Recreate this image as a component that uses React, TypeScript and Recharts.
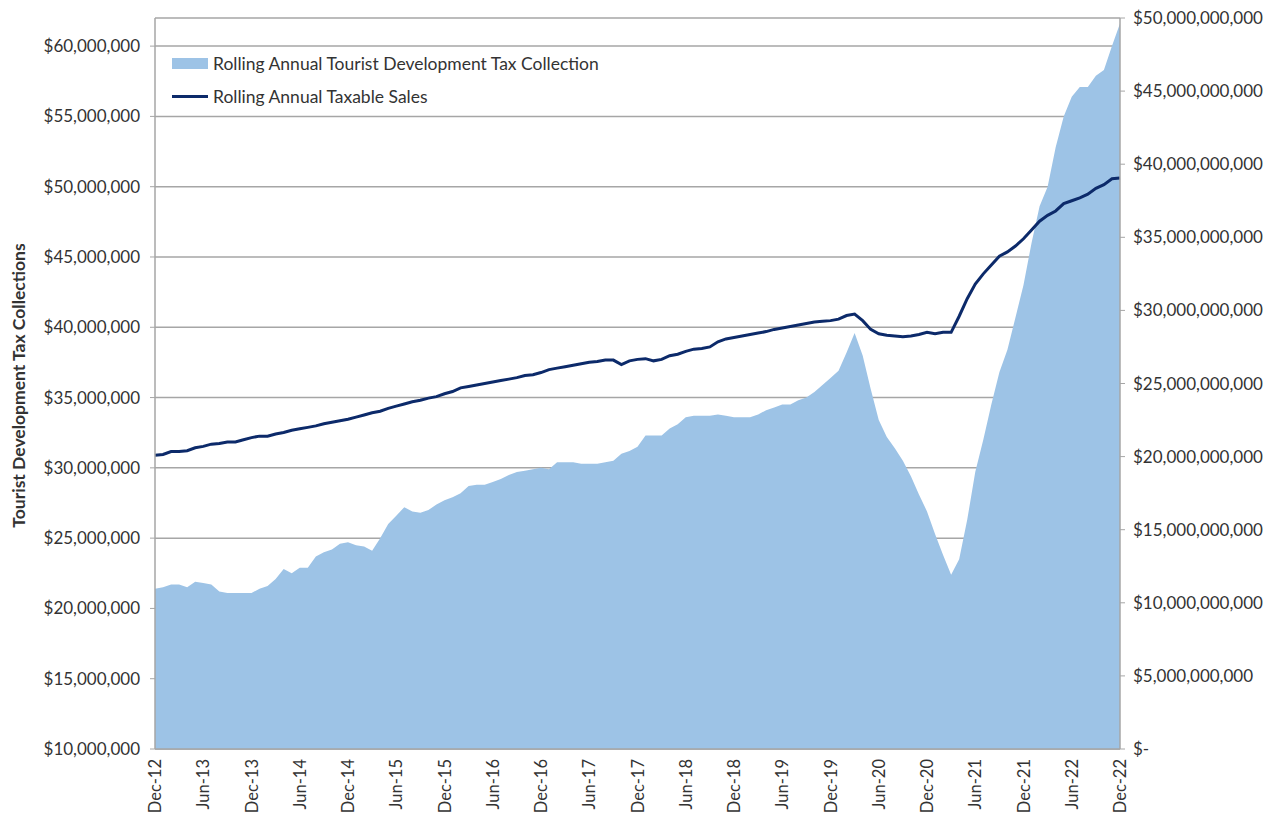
import React from 'react';
import { ComposedChart, CartesianGrid, XAxis, YAxis, Area, Line } from 'recharts';

// rolling annual tourist development tax collections, $ millions, Dec-12 .. Dec-22
const tdtMillions = [
  21.4, 21.5, 21.7, 21.7, 21.5, 21.9, 21.8, 21.7, 21.2, 21.1, 21.1, 21.1,
  21.1, 21.4, 21.6, 22.1, 22.8, 22.5, 22.9, 22.9, 23.7, 24.0, 24.2, 24.6,
  24.7, 24.5, 24.4, 24.1, 25.0, 26.0, 26.6, 27.2, 26.9, 26.8, 27.0, 27.4,
  27.7, 27.9, 28.2, 28.7, 28.8, 28.8, 29.0, 29.2, 29.5, 29.7, 29.8, 29.9,
  30.0, 29.9, 30.4, 30.4, 30.4, 30.3, 30.3, 30.3, 30.4, 30.5, 31.0, 31.2,
  31.5, 32.3, 32.3, 32.3, 32.8, 33.1, 33.6, 33.7, 33.7, 33.7, 33.8, 33.7,
  33.6, 33.6, 33.6, 33.8, 34.1, 34.3, 34.5, 34.5, 34.8, 35.0, 35.4, 35.9,
  36.4, 36.9, 38.2, 39.6, 38.0, 35.6, 33.4, 32.2, 31.4, 30.5, 29.4, 28.1,
  26.9, 25.3, 23.8, 22.4, 23.5, 26.3, 29.7, 32.0, 34.5, 36.8, 38.4, 40.7,
  43.0, 46.0, 48.6, 50.0, 52.8, 55.0, 56.4, 57.1, 57.1, 57.9, 58.3, 60.0, 61.6,
];

// rolling annual taxable sales, $ billions
const salesBillions = [
  20.1, 20.15, 20.35, 20.35, 20.4, 20.6, 20.7, 20.85, 20.9, 21.0, 21.0, 21.15,
  21.3, 21.4, 21.4, 21.55, 21.65, 21.8, 21.9, 22.0, 22.1, 22.25, 22.35, 22.45,
  22.55, 22.7, 22.85, 23.0, 23.1, 23.3, 23.45, 23.6, 23.75, 23.85, 24.0, 24.1,
  24.3, 24.45, 24.7, 24.8, 24.9, 25.0, 25.1, 25.2, 25.3, 25.4, 25.55, 25.6,
  25.75, 25.95, 26.05, 26.15, 26.25, 26.35, 26.45, 26.5, 26.6, 26.6, 26.3, 26.55,
  26.65, 26.7, 26.55, 26.65, 26.9, 27.0, 27.2, 27.35, 27.4, 27.5, 27.85, 28.05,
  28.15, 28.25, 28.35, 28.45, 28.55, 28.7, 28.8, 28.9, 29.0, 29.1, 29.2, 29.25,
  29.3, 29.4, 29.65, 29.75, 29.3, 28.7, 28.4, 28.3, 28.25, 28.2, 28.25, 28.35,
  28.5, 28.4, 28.5, 28.5, 29.6, 30.8, 31.8, 32.5, 33.1, 33.7, 34.0, 34.4,
  34.9, 35.5, 36.1, 36.5, 36.8, 37.3, 37.5, 37.7, 37.95, 38.35, 38.6, 39.0, 39.05,
];

const monthNames = ['Jan', 'Feb', 'Mar', 'Apr', 'May', 'Jun', 'Jul', 'Aug', 'Sep', 'Oct', 'Nov', 'Dec'];
// first point is Dec-12
const monthLabels = tdtMillions.map((_, i) => `${monthNames[(11 + i) % 12]}-${12 + Math.floor((11 + i) / 12)}`);

const leftTicks = [10e6, 15e6, 20e6, 25e6, 30e6, 35e6, 40e6, 45e6, 50e6, 55e6, 60e6];
const rightTicks = [0, 5e9, 10e9, 15e9, 20e9, 25e9, 30e9, 35e9, 40e9, 45e9, 50e9];

const AREA_BLUE = '#9dc3e6';
const NAVY = '#0c2a6a';
const TEXT = '#333333';
const FONT = 'Lato, "Open Sans", sans-serif';

const chartData = monthLabels.map((label, i) => ({
  label,
  tdt: tdtMillions[i] * 1e6,
  sales: salesBillions[i] * 1e9,
}));

const fmtDollars = (v: number) => '$' + v.toLocaleString('en-US');
const fmtRight = (v: number) => (v === 0 ? '$-' : fmtDollars(v));

const MonthTick = (props: any) => {
  const { x, y, payload } = props;
  const ty = y + 2;
  return (
    <text x={x} y={ty} transform={`rotate(-90 ${x} ${ty})`} textAnchor="end" dominantBaseline="central"
      fill={TEXT} fontSize={16.5} fontFamily={FONT}>
      {payload.value}
    </text>
  );
};

// legend sits inside the plot, top-left, like the Excel original
const LegendBox = () => (
  <div style={{ position: 'absolute', left: 164, top: 44, fontFamily: FONT, fontSize: 17.5, color: TEXT, pointerEvents: 'none' }}>
    <div style={{ display: 'flex', alignItems: 'center', height: 22, whiteSpace: 'nowrap' }}>
      <span style={{ display: 'inline-block', width: 36, height: 11, background: AREA_BLUE, marginRight: 5 }} />
      Rolling Annual Tourist Development Tax Collection
    </div>
    <div style={{ display: 'flex', alignItems: 'center', height: 22, marginTop: 11, whiteSpace: 'nowrap' }}>
      <span style={{ display: 'inline-block', width: 36, height: 3, background: NAVY, marginRight: 5 }} />
      Rolling Annual Taxable Sales
    </div>
  </div>
);

export default function App() {
  return (
    <div style={{ position: 'relative', width: 1272, height: 806 }}>
      <ComposedChart width={1272} height={806} data={chartData} margin={{ top: 10, right: 0, bottom: 0, left: 0 }}>
        <CartesianGrid yAxisId="left" vertical={false} stroke="#a6a6a6" strokeWidth={1.5} />
        <XAxis dataKey="label" interval={5} height={65} tick={<MonthTick />} tickLine={false}
          axisLine={{ stroke: '#a6a6a6', strokeWidth: 1.5 }} padding={{ left: 0, right: 0 }} />
        <YAxis yAxisId="left" width={147} domain={[10e6, 62e6]} ticks={leftTicks} tickFormatter={fmtDollars}
          allowDataOverflow tickSize={5} tickMargin={10}
          tick={{ fill: TEXT, fontSize: 17, fontFamily: FONT }}
          axisLine={{ stroke: '#a6a6a6', strokeWidth: 1.5 }} tickLine={{ stroke: '#a6a6a6' }}
          label={{
            content: (p: any) => {
              const vb = p.viewBox;
              const cx = vb.x + 10;
              const cy = vb.y + vb.height / 2 + 2;
              return (
                <text x={cx} y={cy} transform={`rotate(-90 ${cx} ${cy})`} textAnchor="middle" dominantBaseline="central"
                  fill={TEXT} fontSize={17.5} fontWeight="bold" fontFamily={FONT}>
                  Tourist Development Tax Collections
                </text>
              );
            },
          }} />
        <YAxis yAxisId="right" orientation="right" width={160} domain={[0, 50e9]} ticks={rightTicks}
          tickFormatter={fmtRight} allowDataOverflow tickSize={5} tickMargin={8}
          tick={{ fill: TEXT, fontSize: 17, fontFamily: FONT, textAnchor: 'start' }}
          axisLine={{ stroke: '#a6a6a6', strokeWidth: 1.5 }} tickLine={{ stroke: '#a6a6a6' }} />
        <Area yAxisId="left" type="linear" dataKey="tdt" name="Rolling Annual Tourist Development Tax Collection"
          stroke="none" fill={AREA_BLUE} fillOpacity={1} isAnimationActive={false} />
        <Line yAxisId="right" type="linear" dataKey="sales" name="Rolling Annual Taxable Sales"
          stroke={NAVY} strokeWidth={3} dot={false} activeDot={false} isAnimationActive={false} />
      </ComposedChart>
      <LegendBox />
    </div>
  );
}
